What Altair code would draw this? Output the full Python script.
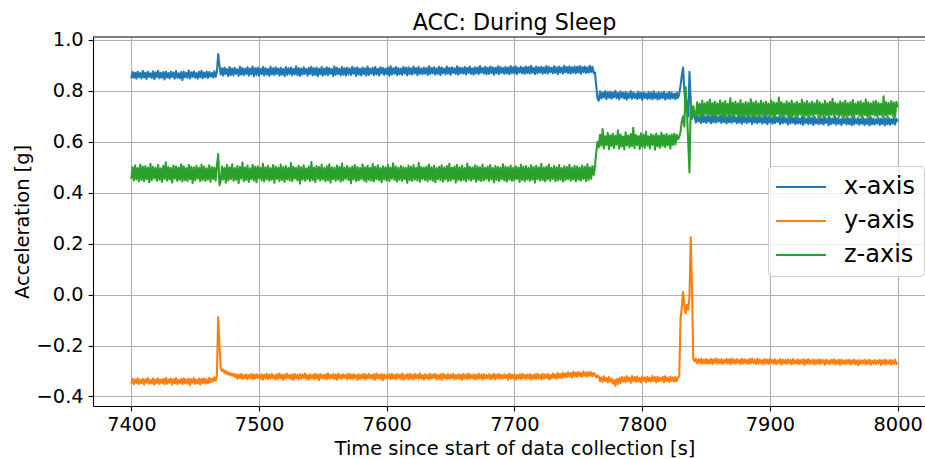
import altair as alt
import pandas as pd

# Sample times [s] (one reading every second)
time_s = list(range(7400, 8001))

# Accelerations, in milli-g
x_axis_mg = [
    # 7400-7467
    850, 874, 852, 871, 848, 876, 854, 870, 849, 878,
    853, 872, 847, 875, 855, 869, 851, 877, 846, 873,
    854, 879, 850, 871, 852, 874, 845, 876, 853, 870,
    849, 875, 855, 872, 848, 878, 852, 869, 850, 874,
    842, 876, 854, 871, 851, 880, 849, 873, 855, 877,
    852, 870, 848, 875, 853, 879, 850, 872, 854, 876,
    851, 874, 856, 871, 853, 877, 855, 873,
    # 7468-7469
    945, 900,
    # 7470-7762
    864, 889, 860, 892, 866, 886, 858, 894, 863, 888,
    861, 891, 867, 885, 859, 895, 864, 890, 862, 887,
    866, 893, 860, 888, 865, 896, 858, 889, 863, 892,
    860, 887, 866, 894, 861, 890, 864, 886, 859, 895,
    865, 889, 862, 893, 867, 888, 860, 891, 864, 886,
    858, 894, 863, 889, 866, 892, 861, 887, 865, 897,
    862, 890, 859, 888, 864, 893, 867, 886, 860, 891,
    866, 895, 861, 889, 863, 892, 858, 887, 865, 894,
    860, 888, 864, 893, 862, 890, 867, 886, 859, 896,
    863, 891, 866, 887, 861, 894, 864, 889, 860, 892,
    865, 888, 862, 895, 867, 890, 859, 893, 864, 887,
    861, 892, 866, 889, 860, 896, 863, 888, 867, 891,
    862, 894, 865, 887, 861, 893, 868, 890, 863, 888,
    866, 892, 860, 897, 864, 889, 867, 894, 862, 890,
    865, 888, 863, 895, 868, 891, 861, 893, 866, 889,
    864, 896, 869, 890, 862, 894, 867, 888, 865, 892,
    868, 890, 863, 897, 866, 891, 869, 893, 864, 889,
    867, 895, 862, 892, 869, 888, 865, 896, 868, 891,
    863, 893, 870, 889, 866, 897, 864, 892, 869, 890,
    868, 894, 865, 891, 870, 896, 867, 889, 864, 893,
    869, 892, 866, 898, 871, 890, 868, 895, 865, 891,
    867, 896, 870, 893, 864, 891, 869, 897, 866, 894,
    871, 890, 867, 895, 869, 892, 865, 898, 870, 893,
    868, 897, 866, 891, 872, 895, 869, 892, 867, 896,
    870, 894, 868, 899, 871, 891, 866, 896, 869, 893,
    872, 895, 867, 892, 870, 898, 868, 894, 873, 891,
    869, 897, 871, 893, 866, 896, 872, 892, 868, 899,
    873, 894, 870, 897, 868, 893, 871, 896, 869, 895,
    872, 898, 867, 894, 873, 896, 870, 893, 871, 899,
    874, 895, 870,
    # 7763-7765
    872, 820, 770,
    # 7766-7828
    762, 798, 770, 793, 774, 799, 768, 795, 773, 797,
    769, 794, 775, 800, 771, 792, 767, 798, 774, 793,
    770, 796, 766, 791, 773, 799, 769, 794, 772, 790,
    768, 797, 771, 792, 765, 795, 772, 790, 768, 796,
    770, 793, 767, 798, 771, 791, 766, 794, 769, 792,
    772, 796, 766, 790, 770, 795, 768, 793, 771, 789,
    767, 794, 772,
    # 7829-7841
    790, 820, 860, 892, 800, 740, 760, 700, 875, 760, 690, 715, 700,
    # 7842-8000
    676, 702, 680, 699, 674, 704, 678, 700, 675, 703,
    679, 698, 673, 705, 677, 701, 676, 697, 680, 703,
    674, 700, 678, 704, 672, 698, 677, 702, 675, 699,
    679, 696, 673, 703, 676, 699, 671, 701, 677, 697,
    674, 702, 678, 695, 670, 700, 676, 698, 673, 701,
    677, 696, 672, 699, 675, 703, 669, 697, 676, 694,
    671, 700, 674, 696, 678, 698, 670, 695, 673, 699,
    676, 693, 668, 697, 672, 700, 675, 694, 669, 698,
    673, 692, 671, 699, 667, 695, 674, 691, 670, 697,
    672, 694, 666, 698, 673, 690, 669, 696, 671, 693,
    668, 697, 674, 691, 665, 695, 670, 692, 672, 699,
    667, 693, 671, 689, 666, 696, 673, 691, 668, 694,
    670, 692, 665, 697, 669, 690, 672, 694, 667, 691,
    671, 695, 666, 690, 670, 693, 664, 696, 669, 692,
    668, 689, 672, 694, 666, 691, 670, 697, 665, 692,
    669, 693, 667, 690, 671, 695, 668, 691, 680,
]

y_axis_mg = [
    # 7400-7467
    -349, -330, -352, -333, -347, -329, -351, -334, -348, -331,
    -353, -332, -346, -328, -350, -335, -349, -330, -354, -333,
    -347, -329, -351, -334, -348, -331, -352, -327, -350, -333,
    -346, -330, -353, -332, -349, -328, -351, -335, -347, -331,
    -352, -329, -348, -333, -350, -330, -355, -332, -346, -328,
    -351, -334, -349, -330, -353, -331, -347, -329, -350, -333,
    -348, -327, -345, -330, -341, -325, -338, -320,
    # 7468-7469
    -88, -200,
    # 7470-7762
    -290, -300, -294, -309, -300, -313, -305, -316, -309, -319,
    -310, -324, -313, -330, -314, -328, -312, -331, -315, -329,
    -313, -332, -316, -328, -311, -333, -314, -330, -312, -327,
    -316, -331, -313, -334, -315, -329, -311, -332, -314, -330,
    -312, -328, -317, -333, -313, -331, -310, -329, -315, -334,
    -314, -330, -311, -327, -316, -332, -313, -335, -312, -329,
    -315, -333, -312, -330, -314, -328, -310, -331, -316, -334,
    -313, -329, -315, -332, -311, -330, -314, -336, -312, -328,
    -316, -331, -313, -333, -309, -330, -315, -328, -312, -332,
    -314, -334, -311, -329, -316, -331, -313, -327, -315, -333,
    -310, -330, -314, -332, -312, -328, -316, -335, -313, -331,
    -315, -329, -311, -333, -314, -330, -312, -328, -316, -332,
    -313, -334, -310, -329, -315, -331, -312, -336, -314, -330,
    -316, -328, -313, -332, -311, -330, -315, -333, -312, -329,
    -314, -331, -310, -334, -316, -329, -313, -332, -311, -330,
    -315, -333, -312, -328, -314, -331, -309, -330, -316, -334,
    -313, -329, -315, -332, -311, -330, -314, -327, -312, -333,
    -316, -331, -313, -335, -310, -329, -315, -332, -312, -330,
    -314, -328, -311, -333, -316, -330, -313, -331, -315, -334,
    -312, -329, -314, -332, -310, -330, -316, -328, -313, -333,
    -315, -331, -311, -329, -314, -334, -312, -330, -316, -328,
    -313, -332, -315, -330, -311, -333, -314, -329, -312, -331,
    -316, -330, -313, -328, -315, -334, -310, -331, -314, -329,
    -312, -333, -316, -330, -313, -332, -311, -329, -315, -331,
    -314, -328, -312, -334, -316, -330, -313, -331, -310, -329,
    -315, -332, -311, -330, -314, -328, -312, -333, -316, -330,
    -310, -327, -313, -331, -308, -326, -312, -329, -307, -325,
    -309, -324, -305, -322, -308, -326, -303, -321, -306, -323,
    -304, -320, -307, -323, -302, -319, -306, -322, -303, -318,
    -305, -321, -308,
    # 7763-7765
    -312, -326, -318,
    # 7766-7828
    -322, -340, -325, -343, -321, -339, -327, -345, -324, -342,
    -330, -350, -335, -358, -332, -352, -328, -347, -323, -341,
    -325, -344, -321, -340, -326, -346, -320, -339, -324, -343,
    -322, -341, -327, -345, -321, -338, -325, -344, -323, -340,
    -326, -342, -320, -339, -324, -345, -322, -341, -327, -338,
    -323, -344, -321, -340, -326, -343, -322, -339, -325, -342,
    -324, -340, -326,
    # 7829-7841
    -320, -95, -50, 10, -45, -75, -40, -60, -10, 225, 20, -255, -262,
    # 7842-8000
    -252, -270, -254, -268, -251, -272, -255, -269, -253, -271,
    -256, -270, -252, -273, -254, -268, -251, -271, -255, -269,
    -253, -272, -256, -268, -252, -270, -254, -274, -251, -269,
    -255, -271, -253, -268, -257, -273, -252, -270, -254, -269,
    -256, -272, -253, -270, -251, -268, -255, -273, -252, -271,
    -254, -269, -257, -274, -253, -270, -255, -272, -252, -268,
    -256, -271, -254, -273, -258, -269, -253, -275, -255, -270,
    -257, -272, -254, -269, -256, -274, -253, -271, -258, -270,
    -255, -273, -257, -270, -254, -276, -256, -271, -253, -272,
    -258, -270, -255, -274, -257, -271, -254, -273, -256, -269,
    -257, -275, -255, -271, -259, -273, -256, -270, -254, -274,
    -258, -272, -256, -276, -255, -271, -259, -273, -257, -270,
    -256, -274, -258, -271, -255, -273, -259, -277, -257, -272,
    -259, -270, -256, -274, -258, -272, -255, -275, -260, -271,
    -257, -273, -259, -270, -256, -276, -258, -272, -255, -274,
    -259, -271, -257, -275, -258, -272, -256, -273, -266,
]

z_axis_mg = [
    # 7400-7467
    455, 500, 448, 508, 452, 497, 445, 511, 450, 503,
    446, 505, 453, 499, 441, 514, 449, 502, 456, 498,
    447, 509, 451, 496, 443, 506, 454, 520, 448, 501,
    452, 498, 440, 507, 455, 503, 447, 499, 451, 512,
    444, 504, 450, 497, 446, 510, 453, 502, 438, 500,
    449, 506, 455, 498, 445, 511, 450, 503, 447, 496,
    452, 508, 443, 501, 454, 499, 448, 505,
    # 7468-7469
    552, 430,
    # 7470-7762
    445, 503, 452, 498, 440, 509, 448, 500, 454, 512,
    447, 497, 451, 505, 438, 501, 455, 519, 446, 499,
    450, 507, 443, 496, 453, 510, 448, 502, 441, 504,
    456, 498, 449, 514, 444, 500, 452, 506, 447, 497,
    451, 509, 439, 503, 454, 499, 446, 511, 450, 501,
    443, 505, 452, 497, 448, 517, 445, 502, 455, 498,
    449, 506, 436, 500, 451, 508, 447, 496, 453, 503,
    446, 521, 450, 499, 442, 505, 454, 501, 448, 510,
    452, 497, 445, 504, 449, 512, 440, 500, 453, 498,
    447, 507, 451, 502, 444, 515, 448, 499, 455, 505,
    450, 498, 437, 503, 452, 509, 446, 501, 449, 497,
    454, 511, 448, 500, 443, 506, 451, 498, 447, 513,
    445, 502, 453, 508, 449, 497, 441, 504, 452, 500,
    448, 510, 446, 499, 455, 516, 450, 503, 444, 498,
    451, 505, 447, 500, 453, 497, 439, 507, 449, 502,
    446, 509, 452, 498, 448, 518, 443, 501, 454, 499,
    450, 503, 445, 511, 451, 500, 447, 506, 442, 497,
    453, 502, 449, 508, 444, 499, 452, 505, 446, 514,
    448, 498, 454, 503, 440, 510, 450, 500, 447, 506,
    451, 497, 445, 515, 452, 502, 448, 499, 453, 508,
    443, 504, 450, 500, 446, 511, 449, 498, 454, 503,
    447, 509, 452, 497, 441, 505, 450, 501, 446, 499,
    453, 512, 448, 503, 444, 500, 451, 507, 447, 498,
    449, 504, 454, 499, 443, 510, 450, 502, 446, 505,
    452, 498, 447, 508, 451, 501, 440, 506, 453, 500,
    448, 514, 450, 499, 445, 503, 452, 511, 447, 498,
    454, 505, 446, 500, 449, 509, 451, 497, 444, 504,
    450, 501, 453, 510, 447, 498, 452, 506, 445, 503,
    451, 499, 448, 507, 454, 502, 446, 512, 450, 500,
    455, 505, 470,
    # 7763-7765
    500, 560, 600,
    # 7766-7828
    578, 628, 585, 650, 574, 622, 588, 635, 571, 626,
    584, 632, 576, 624, 589, 645, 573, 629, 582, 621,
    570, 637, 586, 625, 578, 631, 583, 655, 575, 627,
    587, 623, 572, 634, 581, 628, 576, 640, 585, 622,
    574, 630, 588, 626, 569, 633, 582, 624, 577, 636,
    584, 627, 579, 631, 586, 625, 573, 629, 588, 632,
    590, 628, 610,
    # 7829-7841
    620, 640, 680, 700, 660, 815, 720, 600, 480, 760, 700, 740, 710,
    # 7842-8000
    700, 755, 707, 749, 696, 762, 703, 751, 709, 757,
    698, 766, 705, 752, 701, 758, 694, 750, 708, 763,
    702, 754, 697, 760, 706, 749, 699, 771, 704, 753,
    696, 758, 708, 751, 700, 764, 703, 750, 697, 756,
    705, 752, 699, 767, 702, 754, 693, 759, 707, 751,
    698, 761, 704, 753, 700, 757, 706, 750, 695, 763,
    703, 755, 699, 752, 708, 774, 701, 756, 697, 750,
    706, 759, 700, 753, 694, 762, 704, 751, 699, 757,
    702, 750, 707, 765, 698, 754, 703, 760, 696, 752,
    705, 758, 700, 751, 709, 763, 697, 755, 703, 749,
    699, 761, 704, 752, 695, 757, 706, 769, 701, 753,
    707, 750, 698, 759, 703, 754, 700, 762, 696, 751,
    704, 756, 701, 764, 697, 750, 708, 757, 702, 760,
    698, 752, 705, 766, 700, 755, 694, 751, 707, 758,
    703, 761, 699, 753, 706, 749, 701, 779, 704, 756,
    697, 752, 708, 760, 702, 754, 699, 757, 735,
]

series_names = ["x-axis", "y-axis", "z-axis"]
series_colors = ["#1f77b4", "#ff7f0e", "#2ca02c"]
x_ticks = [7400, 7500, 7600, 7700, 7800, 7900, 8000]
y_ticks = [-0.4, -0.2, 0.0, 0.2, 0.4, 0.6, 0.8, 1.0]

for arr in (x_axis_mg, y_axis_mg, z_axis_mg):
    assert len(arr) == len(time_s), len(arr)

rows = []
for name, vals in zip(series_names, (x_axis_mg, y_axis_mg, z_axis_mg)):
    for t, v in zip(time_s, vals):
        rows.append({"t": t, "acc": v / 1000.0, "series": name})
df = pd.DataFrame(rows)

W, H = 832, 369
FONT = "DejaVu Sans"

lines = alt.Chart(df).mark_line(
    strokeWidth=2.08, strokeJoin="round", clip=True
).encode(
    x=alt.X(
        "t:Q",
        scale=alt.Scale(domain=[7370, 8021.4], nice=False, zero=False),
        axis=alt.Axis(
            values=x_ticks, format="d", labelFlush=False,
            title="Time since start of data collection [s]",
            titleX=421.5, titleY=42, titleBaseline="middle", titleAlign="center",
        ),
    ),
    y=alt.Y(
        "acc:Q",
        scale=alt.Scale(domain=[-0.4375, 1.0117], nice=False, zero=False),
        axis=alt.Axis(
            values=y_ticks, format=".1f", labelFlush=False,
            title="Acceleration [g]",
            titleX=-71, titleY=184.5, titleAngle=-90,
            titleBaseline="middle", titleAlign="center",
        ),
    ),
    color=alt.Color(
        "series:N",
        scale=alt.Scale(domain=series_names, range=series_colors),
        legend=alt.Legend(
            title=None, orient="none", legendX=675, legendY=129,
            symbolType="M-5,0H5", symbolSize=100, symbolStrokeWidth=2.08,
            labelFontSize=24, labelFont=FONT, labelColor="black",
            rowPadding=10, padding=9, symbolOffset=12, labelOffset=31,
            strokeColor="#cccccc", fillColor="rgba(255,255,255,0.8)",
            cornerRadius=4,
        ),
    ),
)

top_spine = alt.Chart(pd.DataFrame({"k": [0]})).mark_rule(
    color="black", strokeWidth=1.1
).encode(x=alt.value(0), x2=alt.value(W), y=alt.value(0))

chart = alt.layer(lines, top_spine).properties(
    width=W, height=H,
    padding={"left": 93, "top": 37, "right": 0, "bottom": 53},
    autosize=alt.AutoSizeParams(type="none"),
    title=alt.TitleParams(
        text="ACC: During Sleep", fontSize=22.2, font=FONT, fontWeight="normal",
        color="black", anchor="middle", dx=5.5, dy=25, offset=3, baseline="alphabetic",
    ),
).configure_view(stroke=None).configure_axis(
    domainColor="black", domainWidth=1.1,
    tickColor="black", tickWidth=1.1, tickSize=4.9,
    labelFont=FONT, labelFontSize=19.4, labelColor="black", labelPadding=4.9,
    gridColor="#b0b0b0", gridWidth=1.1,
    titleFont=FONT, titleFontSize=19.4, titleFontWeight="normal", titleColor="black",
)

chart.save("out.html", embed_options={"renderer": "svg", "actions": False})
